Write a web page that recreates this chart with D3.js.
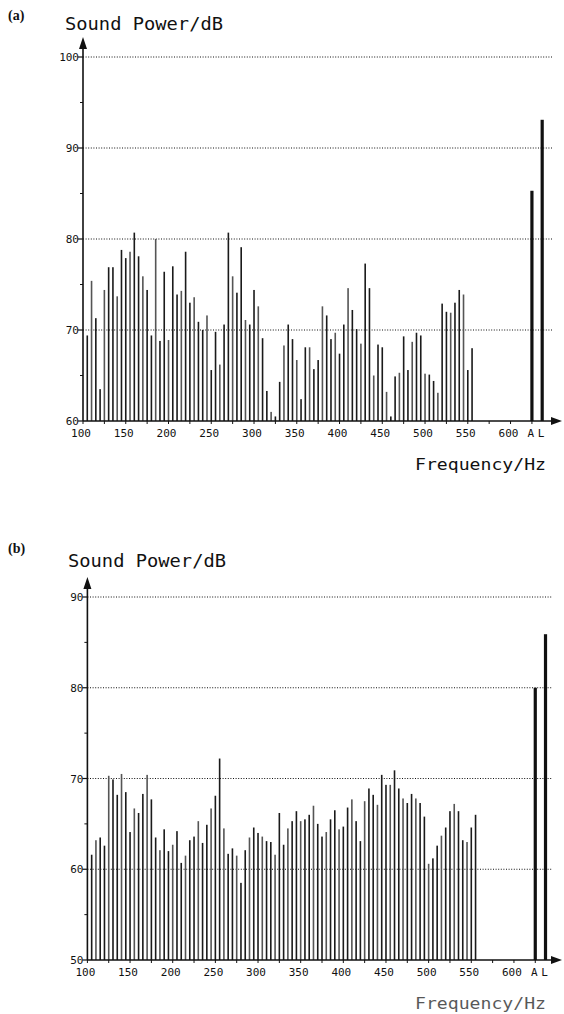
<!DOCTYPE html>
<html>
<head>
<meta charset="utf-8">
<script src="https://cdn.jsdelivr.net/npm/d3@7"></script>
<style>
  body { margin: 0; background: #fff; }
  svg { display: block; }
  .tick-label { font-family: "DejaVu Sans Mono", monospace; font-size: 11px; fill: #111; }
  .axis-title { font-family: "DejaVu Sans Mono", monospace; fill: #111; }
  .panel-tag { font-family: "Liberation Serif", serif; font-weight: bold; font-size: 14px; fill: #111; }
</style>
</head>
<body>
<svg id="chart" width="564" height="1014"></svg>
<script>
// ---------------------------
// Narrow-band sound power spectra, panels (a) and (b)
// ---------------------------

// frequency bins (Hz), one bar every 5 Hz
const freqs = d3.range(105, 556, 5);

// panel (a) levels, dB
const levelsA = [
  69.4, 75.4, 71.3, 63.5, 74.4, 76.9, 76.9, 73.7, 78.8, 77.9,
  78.6, 80.7, 78.1, 75.9, 74.4, 69.4, 80.0, 68.8, 76.4, 68.9,
  77.0, 73.9, 74.3, 78.6, 73.0, 73.6, 70.9, 70.0, 71.6, 65.6,
  69.8, 66.2, 70.6, 80.7, 75.9, 74.1, 79.1, 71.1, 70.6, 74.4,
  72.6, 69.1, 63.3, 61.0, 60.5, 64.3, 68.3, 70.6, 69.0, 66.7,
  62.4, 68.1, 68.1, 65.7, 66.7, 72.6, 71.6, 69.0, 69.7, 67.4,
  70.6, 74.6, 72.2, 70.1, 68.5, 77.3, 74.6, 65.0, 68.4, 68.1,
  63.2, 60.5, 64.9, 65.3, 69.3, 65.6, 68.7, 69.7, 69.4, 65.2,
  65.1, 64.4, 63.1, 72.9, 72.0, 71.9, 73.0, 74.4, 73.9, 65.6,
  68.0
];

// panel (b) levels, dB
const levelsB = [
  61.6, 63.2, 63.5, 62.6, 70.3, 69.9, 68.2, 70.5, 68.5, 64.1,
  66.7, 66.2, 68.3, 70.4, 67.7, 63.5, 62.1, 64.4, 62.0, 62.7,
  64.2, 60.7, 61.5, 63.2, 63.6, 65.3, 62.9, 64.9, 66.7, 68.1,
  72.2, 64.5, 61.7, 62.3, 61.5, 58.5, 62.1, 63.5, 64.6, 64.0,
  63.6, 63.1, 63.0, 61.6, 66.2, 62.7, 64.5, 65.3, 66.4, 65.3,
  65.5, 66.0, 67.0, 65.0, 63.6, 64.1, 65.5, 66.5, 64.4, 64.7,
  66.8, 67.7, 65.3, 63.1, 67.5, 68.9, 68.2, 67.1, 70.4, 69.3,
  69.3, 70.9, 68.9, 67.8, 67.3, 68.3, 67.8, 67.3, 65.8, 60.6,
  61.2, 62.6, 63.7, 64.6, 66.4, 67.2, 66.4, 63.2, 63.0, 64.6,
  66.0
];

// overall levels "A" and "L" shown after the spectrum
const totalLabels = ["A", "L"];
const totalSlots = [625, 637];          // where they sit on the frequency axis
const totalsA = [85.3, 93.1];
const totalsB = [80.0, 85.9];

// axis ticks
const xTickLabels = [100, 150, 200, 250, 300, 350, 400, 450, 500, 550, 600];
const xMinorTicks = d3.range(100, 626, 25);
const yTicksA = [60, 70, 80, 90, 100];
const yTicksB = [50, 60, 70, 80, 90];

const svg = d3.select("#chart");

function drawPanel(opt) {
  const g = svg.append("g");
  const x = d3.scaleLinear().domain([100, 650]).range([opt.x0, opt.x1]);
  const y = d3.scaleLinear().domain(opt.yDomain).range([opt.yBottom, opt.yTop]);
  const ink = "#111";

  // panel tag and titles
  g.append("text").attr("class", "panel-tag")
    .attr("x", 8).attr("y", opt.tagY).text(opt.tag);
  g.append("text").attr("class", "axis-title")
    .attr("x", opt.titleX).attr("y", opt.titleY)
    .attr("font-size", 18)
    .attr("textLength", 158).attr("lengthAdjust", "spacingAndGlyphs")
    .text("Sound Power/dB");
  g.append("text").attr("class", "axis-title")
    .attr("x", 415).attr("y", opt.yBottom + 49)
    .attr("font-size", 16)
    .attr("textLength", 131).attr("lengthAdjust", "spacingAndGlyphs")
    .attr("opacity", opt.faintFreq ? 0.7 : 1)
    .text("Frequency/Hz");

  // dotted grid
  const majors = opt.yTicks.slice(1);
  g.selectAll(".grid").data(majors).enter().append("line")
    .attr("x1", x(100)).attr("x2", 552)
    .attr("y1", d => y(d)).attr("y2", d => y(d))
    .attr("stroke", ink).attr("stroke-width", 1)
    .attr("stroke-dasharray", "1,1.6");

  // spectrum bars
  g.selectAll(".bar").data(opt.levels).enter().append("rect")
    .attr("x", (d, i) => x(freqs[i]) - 0.8)
    .attr("width", 1.6)
    .attr("y", d => y(d))
    .attr("height", d => opt.yBottom - y(d))
    .attr("fill", (d, i) => i % 3 === 1 ? "#555" : "#1a1a1a");

  // overall A / L bars
  g.selectAll(".total").data(opt.totals).enter().append("rect")
    .attr("x", (d, i) => x(totalSlots[i]) - 1.6)
    .attr("width", 3.2)
    .attr("y", d => y(d))
    .attr("height", d => opt.yBottom - y(d))
    .attr("fill", ink);

  // y axis with arrow
  g.append("line")
    .attr("x1", x(100)).attr("x2", x(100))
    .attr("y1", opt.yBottom).attr("y2", opt.yTop - 14)
    .attr("stroke", ink).attr("stroke-width", 1.6);
  g.append("path")
    .attr("d", `M${x(100)},${opt.yTop - 20} l-4,12 l8,0 z`)
    .attr("fill", ink);

  // x axis with arrow
  g.append("line")
    .attr("x1", x(100)).attr("x2", 556)
    .attr("y1", opt.yBottom).attr("y2", opt.yBottom)
    .attr("stroke", ink).attr("stroke-width", 1.6);
  g.append("path")
    .attr("d", `M562,${opt.yBottom} l-11,-4 l0,8 z`)
    .attr("fill", ink);

  // y ticks
  g.selectAll(".ytick").data(opt.yTicks).enter().append("line")
    .attr("x1", x(100) - 5).attr("x2", x(100))
    .attr("y1", d => y(d)).attr("y2", d => y(d))
    .attr("stroke", ink).attr("stroke-width", 1.2);
  g.selectAll(".yminor").data(opt.yTicks.slice(0, -1).map(d => d + 5)).enter().append("line")
    .attr("x1", x(100) - 3).attr("x2", x(100))
    .attr("y1", d => y(d)).attr("y2", d => y(d))
    .attr("stroke", ink).attr("stroke-width", 1);
  g.selectAll(".ylab").data(opt.yTicks).enter().append("text")
    .attr("class", "tick-label")
    .attr("x", x(100) - 4).attr("y", d => y(d) + 4)
    .attr("text-anchor", "end")
    .text(d => d);

  // x ticks
  g.selectAll(".xtick").data(xMinorTicks).enter().append("line")
    .attr("x1", d => x(d)).attr("x2", d => x(d))
    .attr("y1", opt.yBottom).attr("y2", opt.yBottom + 3)
    .attr("stroke", ink).attr("stroke-width", 1);
  g.selectAll(".xlab").data(xTickLabels).enter().append("text")
    .attr("class", "tick-label")
    .attr("x", d => x(d) - 2).attr("y", opt.yBottom + 16)
    .attr("text-anchor", "middle")
    .text(d => d);
  g.selectAll(".tlab").data(totalLabels).enter().append("text")
    .attr("class", "tick-label")
    .attr("x", (d, i) => x(totalSlots[i]) - 1).attr("y", opt.yBottom + 16)
    .attr("text-anchor", "middle")
    .text(d => d);
}

drawPanel({
  tag: "(a)", tagY: 20, titleX: 65, titleY: 30,
  x0: 83, x1: 553.3, yTop: 57, yBottom: 421,
  yDomain: [60, 100], yTicks: yTicksA,
  levels: levelsA, totals: totalsA
});

drawPanel({
  tag: "(b)", tagY: 553, titleX: 68, titleY: 567,
  x0: 87.4, x1: 556.6, yTop: 597, yBottom: 960,
  yDomain: [50, 90], yTicks: yTicksB,
  levels: levelsB, totals: totalsB, faintFreq: true
});
</script>
</body>
</html>
